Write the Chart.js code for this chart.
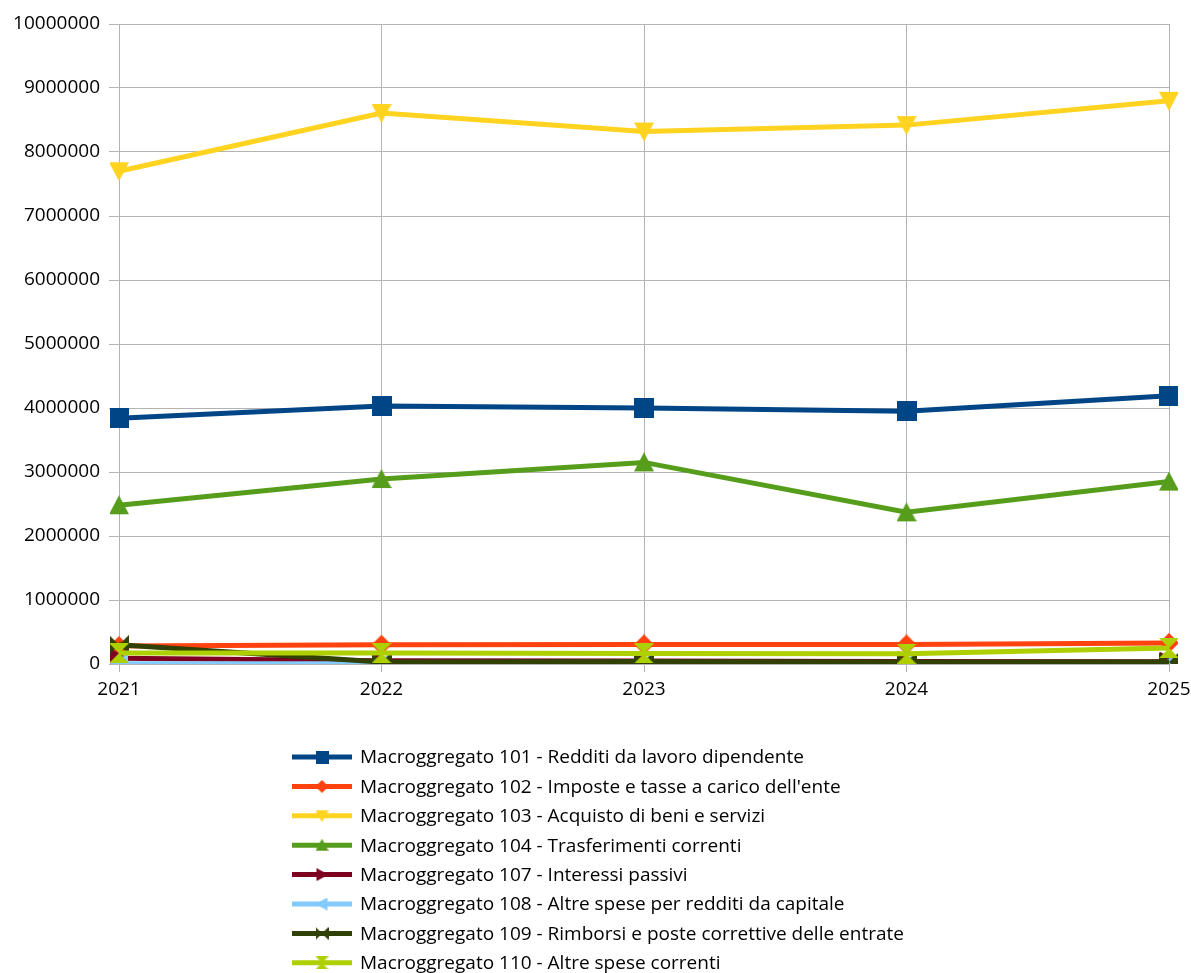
<!DOCTYPE html>
<html>
<head>
<meta charset="utf-8">
<script src="https://cdn.jsdelivr.net/npm/chart.js@4/dist/chart.umd.min.js"></script>
<style>
  html, body { margin: 0; padding: 0; background: #fff; }
  #wrap { width: 1191px; height: 973px; }
</style>
</head>
<body>
<div id="wrap"><canvas id="grafico" width="1191" height="973"></canvas></div>
<script>
const anni = ['2021', '2022', '2023', '2024', '2025'];
const valoriY = [0, 1000000, 2000000, 3000000, 4000000, 5000000, 6000000, 7000000, 8000000, 9000000, 10000000];

const nomi = [
  'Macroggregato 101 - Redditi da lavoro dipendente',
  "Macroggregato 102 - Imposte e tasse a carico dell'ente",
  'Macroggregato 103 - Acquisto di beni e servizi',
  'Macroggregato 104 - Trasferimenti correnti',
  'Macroggregato 107 - Interessi passivi',
  'Macroggregato 108 - Altre spese per redditi da capitale',
  'Macroggregato 109 - Rimborsi e poste correttive delle entrate',
  'Macroggregato 110 - Altre spese correnti'
];

const macro101 = [3840000, 4030000, 4000000, 3950000, 4190000];
const macro102 = [280000, 300000, 305000, 305000, 330000];
const macro103 = [7700000, 8610000, 8320000, 8420000, 8800000];
const macro104 = [2480000, 2890000, 3150000, 2370000, 2850000];
const macro107 = [90000, 50000, 45000, 40000, 35000];
const macro108 = [5000, 5000, 5000, 5000, 5000];
const macro109 = [300000, 30000, 40000, 30000, 30000];
const macro110 = [170000, 170000, 165000, 160000, 250000];

const colori = ['#004586', '#ff420e', '#ffd320', '#579d1c', '#7e0021', '#83caff', '#314004', '#aecf00'];
const forme = ['quadrato', 'rombo', 'giu', 'su', 'destra', 'sinistra', 'farfalla', 'clessidra'];
const serie = [macro101, macro102, macro103, macro104, macro107, macro108, macro109, macro110];
const FONT = '"Open Sans"';

// disegna il marcatore su un canvas a parte
function marcatore(forma, colore, dim) {
  const c = document.createElement('canvas');
  c.width = dim; c.height = dim;
  const g = c.getContext('2d');
  const m = dim / 2;
  g.fillStyle = colore;
  g.beginPath();
  if (forma === 'quadrato') {
    g.rect(0, 0, dim, dim);
  } else if (forma === 'rombo') {
    g.moveTo(m, 0); g.lineTo(dim, m); g.lineTo(m, dim); g.lineTo(0, m);
  } else if (forma === 'giu') {
    g.moveTo(0, 1); g.lineTo(dim, 1); g.lineTo(m, dim);
  } else if (forma === 'su') {
    g.moveTo(m, 0); g.lineTo(dim, dim - 1); g.lineTo(0, dim - 1);
  } else if (forma === 'destra') {
    g.moveTo(1, 0); g.lineTo(dim, m); g.lineTo(1, dim);
  } else if (forma === 'sinistra') {
    g.moveTo(dim - 1, 0); g.lineTo(0, m); g.lineTo(dim - 1, dim);
  } else if (forma === 'farfalla') {
    // due triangoli che puntano al centro
    g.moveTo(0, 0); g.lineTo(m, m); g.lineTo(0, dim); g.closePath();
    g.moveTo(dim, 0); g.lineTo(m, m); g.lineTo(dim, dim);
  } else if (forma === 'clessidra') {
    g.moveTo(0, 0); g.lineTo(dim, 0); g.lineTo(m, m); g.closePath();
    g.moveTo(0, dim); g.lineTo(dim, dim); g.lineTo(m, m);
  }
  g.closePath();
  g.fill();
  return c;
}

const datasets = serie.map((dati, i) => ({
  label: nomi[i],
  data: dati,
  borderColor: colori[i],
  backgroundColor: colori[i],
  borderWidth: 5,
  tension: 0,
  pointStyle: marcatore(forme[i], colori[i], 20),
  order: serie.length - i
}));

// legenda personalizzata, una voce per riga allineata a sinistra
const legendaSotto = {
  id: 'legendaSotto',
  afterDraw(chart) {
    const ctx = chart.ctx;
    ctx.save();
    ctx.font = '19px ' + FONT;
    ctx.textBaseline = 'middle';
    ctx.fillStyle = '#000';
    nomi.forEach((n, i) => {
      const y = 757 + i * 29.4;
      ctx.strokeStyle = colori[i];
      ctx.lineWidth = 5;
      ctx.beginPath();
      ctx.moveTo(292, y); ctx.lineTo(352, y);
      ctx.stroke();
      const mk = marcatore(forme[i], colori[i], 13);
      ctx.drawImage(mk, 322 - 6.5, y - 6.5);
      ctx.fillText(n, 360, y + 1);
    });
    ctx.restore();
  }
};

new Chart(document.getElementById('grafico'), {
  type: 'line',
  data: { labels: anni, datasets },
  plugins: [legendaSotto],
  options: {
    responsive: false,
    animation: false,
    layout: { padding: { top: 24, right: 0, left: 0, bottom: 0 } },
    plugins: { legend: { display: false }, tooltip: { enabled: false } },
    scales: {
      x: {
        offset: false,
        grid: { color: '#b3b3b3', lineWidth: 1, tickLength: 8, drawTicks: true },
        border: { color: '#b3b3b3' },
        ticks: { color: '#000', font: { family: FONT, size: 19 }, padding: 6, maxRotation: 0 },
        afterFit(s) { s.height = 309; s.paddingRight = 22; }
      },
      y: {
        min: 0,
        max: 10000000,
        afterBuildTicks(s) { s.ticks = valoriY.map(v => ({ value: v })); },
        grid: { color: '#b3b3b3', lineWidth: 1, tickLength: 10 },
        border: { color: '#b3b3b3' },
        ticks: { color: '#000', font: { family: FONT, size: 19 }, padding: 9, callback: v => String(v) },
        afterFit(s) { s.width = 119; }
      }
    }
  }
});
</script>
</body>
</html>
